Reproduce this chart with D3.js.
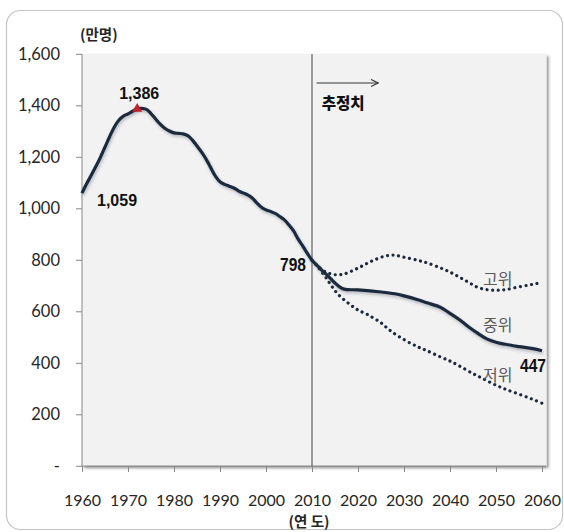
<!DOCTYPE html>
<html><head><meta charset="utf-8">
<script src="https://cdn.jsdelivr.net/npm/d3@7"></script>
<style>
html,body{margin:0;padding:0;background:#fff;}
svg{display:block;}
</style></head>
<body>
<script>
// ---- data ----
const histYears = [1960,1961,1962,1963,1964,1965,1966,1967,1968,1969,1970,1971,1972,1973,1974,1975,1976,1977,1978,1979,1980,1981,1982,1983,1984,1985,1986,1987,1988,1989,1990,1991,1992,1993,1994,1995,1996,1997,1998,1999,2000,2001,2002,2003,2004,2005,2006,2007,2008,2009,2010];
const histValues = [1059,1095,1128,1162,1198,1238,1278,1315,1342,1358,1367,1377,1386,1388,1384,1368,1347,1327,1311,1300,1293,1291,1289,1282,1265,1242,1218,1190,1157,1125,1103,1093,1086,1079,1068,1060,1052,1040,1021,1004,994,988,980,968,955,935,912,880,853,825,798];
const midYears = [2010,2011,2012,2013,2014,2015,2016,2017,2020,2025,2028,2030,2033,2035,2038,2040,2042,2044,2046,2048,2050,2052,2055,2058,2060];
const midValues = [798,780,762,745,728,710,695,686,683,675,668,660,645,633,615,592,568,540,515,493,480,472,463,455,447];
const highYears = [2010,2011,2012,2013,2015,2017,2020,2023,2026,2028,2030,2033,2035,2038,2040,2042,2044,2046,2048,2050,2052,2055,2058,2060];
const highValues = [798,780,764,752,742,745,768,795,815,818,810,798,788,768,752,733,713,693,684,682,684,695,705,712];
const lowYears = [2010,2011,2012,2013,2014,2015,2016,2018,2020,2022,2025,2027,2030,2033,2035,2038,2040,2042,2045,2047,2050,2052,2055,2058,2060];
const lowValues = [798,778,755,732,705,680,660,630,605,588,555,525,490,462,447,422,407,388,358,340,313,298,278,258,243];
const xTicks = [1960,1970,1980,1990,2000,2010,2020,2030,2040,2050,2060];
const yTicks = [0,200,400,600,800,1000,1200,1400,1600];
const seriesLabels = ["고위","중위","저위"];
const peak = {year:1972, value:1386};
const start = {year:1960, value:1059};
const base = {year:2010, value:798};
const end = {year:2060, value:447};

// ---- layout ----
const W = 564, H = 532;
const svg = d3.select("body").append("svg").attr("width", W).attr("height", H);
const defs = svg.append("defs");
const sh = defs.append("filter").attr("id","plotShadow").attr("x","-5%").attr("y","-5%").attr("width","115%").attr("height","115%");
sh.append("feDropShadow").attr("dx",2).attr("dy",2).attr("stdDeviation",1.5).attr("flood-color","#000").attr("flood-opacity",0.45);
const lsh = defs.append("filter").attr("id","lineShadow").attr("x","-10%").attr("y","-10%").attr("width","120%").attr("height","130%");
lsh.append("feDropShadow").attr("dx",1).attr("dy",2).attr("stdDeviation",1.4).attr("flood-color","#3a4a60").attr("flood-opacity",0.35);
defs.append("marker").attr("id","arrow").attr("viewBox","0 0 10 10").attr("refX",9).attr("refY",5)
  .attr("markerWidth",9).attr("markerHeight",9).attr("markerUnits","userSpaceOnUse").attr("orient","auto")
  .append("path").attr("d","M1,1 L9,5 L1,9").attr("fill","none").attr("stroke","#333").attr("stroke-width",1.2);

// outer frame
svg.append("rect").attr("x",6.5).attr("y",10.5).attr("width",556).attr("height",519).attr("rx",14)
  .attr("fill","#fff").attr("stroke","#c4c4c4").attr("stroke-width",1.2);

const x = d3.scaleLinear().domain([1960,2060]).range([82,542]);
const y = d3.scaleLinear().domain([0,1600]).range([465.8,53.8]);

// plot background
svg.append("rect").attr("x",82).attr("y",54).attr("width",464.5).attr("height",412)
  .attr("fill","#f2f2f2").attr("filter","url(#plotShadow)");

// axes
const fontNum = "Lato, 'Open Sans', sans-serif";
const yAxis = d3.axisLeft(y).tickValues(yTicks).tickSize(6).tickPadding(16)
  .tickFormat(d => d === 0 ? "-" : d3.format(",")(d));
const gy = svg.append("g").attr("transform","translate(82,0)").call(yAxis);
gy.select(".domain").attr("stroke","#888").attr("d","M0,54V466");
gy.selectAll(".tick line").attr("stroke","#888");
gy.selectAll(".tick text").attr("font-family",fontNum).attr("font-size",16.5).attr("fill","#262626");

const xAxis = d3.axisBottom(x).tickValues(xTicks).tickSize(6).tickPadding(23).tickFormat(d3.format("d"));
const gx = svg.append("g").attr("transform","translate(0,466)").call(xAxis);
gx.select(".domain").attr("stroke","#888").attr("d","M82,0H546");
gx.selectAll(".tick line").attr("stroke","#888");
gx.selectAll(".tick text").attr("font-family",fontNum).attr("font-size",16).attr("fill","#262626");

// axis titles
svg.append("text").attr("x",80).attr("y",40).text("(만명)")
  .attr("font-family","'Noto Sans CJK KR', sans-serif").attr("font-weight",700).attr("font-size",14.5).attr("fill","#262626");
svg.append("text").attr("x",x(2010)-3).attr("y",527).attr("text-anchor","middle").text("(연 도)")
  .attr("font-family","'Noto Sans CJK KR', sans-serif").attr("font-weight",700).attr("font-size",14.5).attr("fill","#262626");

// 2010 divider
svg.append("line").attr("x1",x(2010)).attr("x2",x(2010)).attr("y1",54).attr("y2",466)
  .attr("stroke","#555").attr("stroke-width",1.1);
svg.append("line").attr("x1",x(2011)).attr("x2",x(2024.4)).attr("y1",83).attr("y2",83)
  .attr("stroke","#333").attr("stroke-width",1.2).attr("marker-end","url(#arrow)");
svg.append("text").attr("x",x(2012.1)).attr("y",109).text("추정치")
  .attr("font-family","'Noto Sans CJK KR', sans-serif").attr("font-weight",900).attr("font-size",16)
  .attr("textLength",43).attr("lengthAdjust","spacingAndGlyphs").attr("fill","#111");

// lines
const line = d3.line().x(d => x(d[0])).y(d => y(d[1])).curve(d3.curveCatmullRom.alpha(0.5));
const zip = (a,b) => a.map((v,i) => [v,b[i]]);
const navy = "#1c2a3e";

svg.append("path").datum(zip(highYears,highValues)).attr("d",line)
  .attr("fill","none").attr("stroke",navy).attr("stroke-width",3.2)
  .attr("stroke-linecap","round").attr("stroke-dasharray","0.01 5.6");
svg.append("path").datum(zip(lowYears,lowValues)).attr("d",line)
  .attr("fill","none").attr("stroke",navy).attr("stroke-width",3.2)
  .attr("stroke-linecap","round").attr("stroke-dasharray","0.01 5.6");
svg.append("path").datum(zip(histYears.concat(midYears.slice(1)), histValues.concat(midValues.slice(1)))).attr("d",line)
  .attr("fill","none").attr("stroke",navy).attr("stroke-width",3.2).attr("stroke-linejoin","round")
  .attr("filter","url(#lineShadow)");

// peak marker
svg.append("path").attr("d",d3.symbol(d3.symbolTriangle,45)())
  .attr("transform",`translate(${x(peak.year)},${y(peak.value)})`).attr("fill","#c0222c");

// value labels
const boldFont = "'Liberation Sans', Arial, sans-serif";
svg.append("text").attr("x",x(peak.year)+2).attr("y",y(peak.value)-10).attr("text-anchor","middle")
  .text(d3.format(",")(peak.value)).attr("font-family",boldFont).attr("font-weight",700).attr("font-size",16).attr("fill","#111");
svg.append("text").attr("x",x(start.year)+15).attr("y",y(start.value)+13)
  .text(d3.format(",")(start.value)).attr("font-family",boldFont).attr("font-weight",700).attr("font-size",16).attr("fill","#111");
svg.append("text").attr("x",x(base.year)-32).attr("y",y(base.value)+10.5)
  .text(base.value).attr("font-family",boldFont).attr("font-weight",700).attr("font-size",19)
  .attr("textLength",26).attr("lengthAdjust","spacingAndGlyphs").attr("fill","#111");
svg.append("text").attr("x",x(end.year)-22).attr("y",y(end.value)+21)
  .text(end.value).attr("font-family",boldFont).attr("font-weight",700).attr("font-size",19)
  .attr("textLength",26).attr("lengthAdjust","spacingAndGlyphs").attr("fill","#111");

// series labels
const labY = [285, 331, 381];
seriesLabels.forEach((s,i) => {
  svg.append("text").attr("x",483).attr("y",labY[i]).text(s)
    .attr("font-family","'Noto Sans CJK KR', sans-serif").attr("font-size",16).attr("fill","#5a5a5a");
});
</script>
</body></html>
